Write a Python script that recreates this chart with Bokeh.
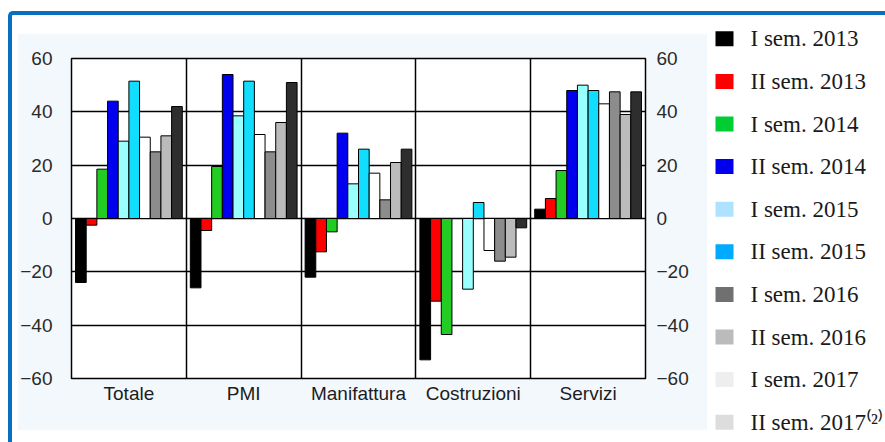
from bokeh.plotting import figure
from bokeh.models import ColumnDataSource, FixedTicker, LinearAxis, Range1d
from bokeh.layouts import row, column
from bokeh.embed import file_html
from bokeh.resources import INLINE
from bokeh.core.properties import value

# ---------------- data ----------------
categories = ["Totale", "PMI", "Manifattura", "Costruzioni", "Servizi"]
series = ["I sem. 2013", "II sem. 2013", "I sem. 2014", "II sem. 2014", "I sem. 2015",
          "II sem. 2015", "I sem. 2016", "II sem. 2016", "I sem. 2017", "II sem. 2017"]

v_I_2013 = [-24, -26, -22, -53, 3.5]
v_II_2013 = [-2.5, -4.5, -12.5, -31, 7.5]
v_I_2014 = [18.5, 19.5, -5, -43.5, 18]
v_II_2014 = [44, 54, 32, 0, 48]
v_I_2015 = [29, 38.5, 13, -26.5, 50]
v_II_2015 = [51.5, 51.5, 26, 6, 48]
v_I_2016 = [30.5, 31.5, 17, -12, 43]
v_II_2016 = [25, 25, 7, -16, 47.5]
v_I_2017 = [31, 36, 21, -14.5, 39]
v_II_2017 = [42, 51, 26, -3.5, 47.5]

values = [v_I_2013, v_II_2013, v_I_2014, v_II_2014, v_I_2015,
          v_II_2015, v_I_2016, v_II_2016, v_I_2017, v_II_2017]

bar_colors = ["#000000", "#FF0000", "#22CC22", "#0000EE", "#99FFFF",
              "#11DDFF", "#FFFFFF", "#8C8C8C", "#BBBBBB", "#2E2E2E"]
legend_colors = ["#000000", "#FF0000", "#00CC33", "#0000EE", "#AEE2FF",
                 "#00AAFF", "#707070", "#BBBBBB", "#EEEEEE", "#DDDDDD"]
legend_labels = ["I sem. 2013", "II sem. 2013", "I sem. 2014", "II sem. 2014", "I sem. 2015",
                 "II sem. 2015", "I sem. 2016", "II sem. 2016", "I sem. 2017", "II sem. 2017\u207d\u00b2\u207e"]

y_ticks = [-60, -40, -20, 0, 20, 40, 60]

# ---------------- main chart ----------------
PANEL = "#F3F8FC"
p = figure(width=690, height=397,
           x_range=Range1d(-0.5, len(categories) - 0.5), y_range=Range1d(-60, 60),
           output_backend="svg", toolbar_location=None,
           min_border_left=54, min_border_right=62, min_border_top=25, min_border_bottom=52,
           background_fill_color="white", border_fill_color=PANEL,
           outline_line_color="black", outline_line_width=1.5)
p.margin = (18, 0, 0, 5)

n = len(series)
bw = 0.093
for j, (vals, col) in enumerate(zip(values, bar_colors)):
    xs = [i + (j - (n - 1) / 2) * bw for i in range(len(categories))]
    src = ColumnDataSource(dict(x=xs, top=vals))
    p.vbar(x="x", top="top", bottom=0, width=bw, source=src,
           fill_color=col, line_color="black", line_width=1)

# grids
p.ygrid.ticker = FixedTicker(ticks=y_ticks)
p.ygrid.grid_line_color = "black"
p.ygrid.grid_line_width = 1.5
p.xgrid.ticker = FixedTicker(ticks=[i + 0.5 for i in range(len(categories) - 1)])
p.xgrid.grid_line_color = "black"
p.xgrid.grid_line_width = 1.5

# axes
AX_FONT = "Liberation Sans"
p.yaxis.ticker = FixedTicker(ticks=y_ticks)
right = LinearAxis(ticker=FixedTicker(ticks=y_ticks))
p.add_layout(right, "right")
for ax, so in ((p.yaxis[0], 19), (right, 11)):
    ax.axis_line_color = None
    ax.major_tick_line_color = None
    ax.minor_tick_line_color = None
    ax.major_tick_out = 0
    ax.minor_tick_out = 0
    ax.major_label_text_font = AX_FONT
    ax.major_label_text_font_size = "19px"
    ax.major_label_text_color = "#2a2a2a"
    ax.major_label_standoff = so

p.xaxis.ticker = FixedTicker(ticks=list(range(len(categories))))
p.xaxis.major_label_overrides = {i: c for i, c in enumerate(categories)}
p.xaxis.axis_line_color = None
p.xaxis.major_tick_line_color = None
p.xaxis.minor_tick_line_color = None
p.xaxis.major_tick_out = 0
p.xaxis.minor_tick_out = 0
p.xaxis.major_label_text_font = AX_FONT
p.xaxis.major_label_text_font_size = "19px"
p.xaxis.major_label_text_color = "#1c1c24"
p.xaxis.major_label_standoff = 4

# ---------------- legend panel ----------------
LW, LH = 178, 427
leg = figure(width=LW, height=LH,
             x_range=Range1d(0, LW), y_range=Range1d(LH, 0),
             output_backend="svg", toolbar_location=None,
             min_border=0, min_border_left=0, min_border_right=0,
             min_border_top=0, min_border_bottom=0,
             x_axis_location=None, y_axis_location=None,
             background_fill_color="white", border_fill_color="white",
             outline_line_color=None)
leg.title = None
leg.grid.visible = False

first, pitch = 23.3, 42.6
ly = [first + k * pitch for k in range(len(legend_labels))]
lsrc = ColumnDataSource(dict(x=[17] * len(ly), tx=[43] * len(ly), y=ly,
                             c=legend_colors, t=legend_labels))
leg.rect(x="x", y="y", width=18, height=15, source=lsrc, fill_color="c", line_color=None)
leg.text(x="tx", y="y", text="t", source=lsrc, text_font=value("Liberation Serif"),
         text_font_size="23px", text_baseline="middle", text_color="#1a1a1a")

root = row(p, column(leg), styles={"border-top": "4px solid #0B6FBF",
                                   "border-left": "4px solid #0B6FBF",
                                   "border-top-left-radius": "5px",
                                   "margin-top": "11px", "margin-left": "8px",
                                   "background": "white"})

open("out.html", "w").write(file_html(root, INLINE))
